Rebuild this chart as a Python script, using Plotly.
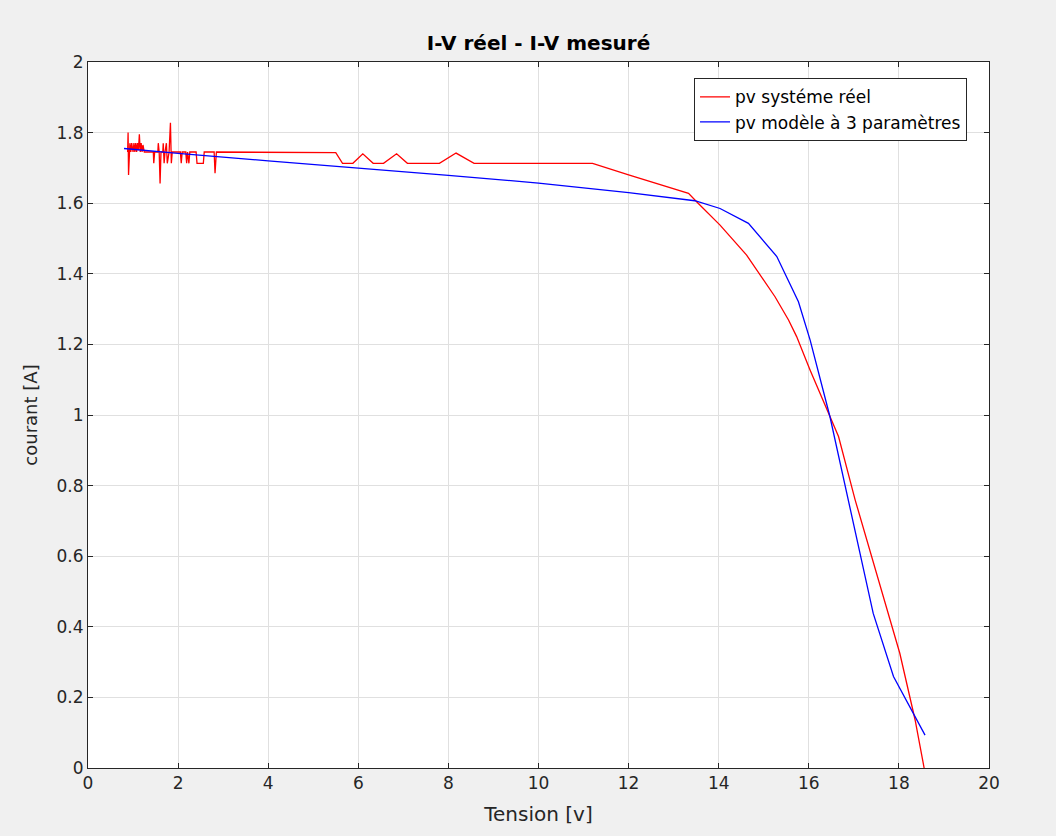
import plotly.graph_objects as go

# Red series: "pv systéme réel" (measured)
red_v = [0.88, 0.89, 0.90, 0.91, 0.93, 0.95, 0.97, 1.00, 1.02, 1.04, 1.06, 1.08, 1.10, 1.12, 1.14,
         1.16, 1.18, 1.20, 1.22, 1.25, 1.45, 1.46, 1.48, 1.55, 1.56, 1.58, 1.60, 1.62, 1.66, 1.67,
         1.69, 1.71, 1.74, 1.76, 1.80, 1.83, 1.85, 1.87, 2.05, 2.07, 2.09, 2.17, 2.19, 2.21, 2.24,
         2.26, 2.40, 2.42, 2.56, 2.58, 2.80, 2.82, 2.85, 5.50, 5.65, 5.88, 6.10, 6.33, 6.56, 6.85,
         7.09, 7.80, 8.17, 8.57, 11.20, 12.00, 13.33, 13.51, 14.03, 14.62, 15.25, 15.55, 15.73,
         16.03, 16.47, 16.66, 17.03, 18.02, 18.36, 18.56]
red_i = [1.745, 1.80, 1.68, 1.745, 1.77, 1.745, 1.77, 1.745, 1.77, 1.745, 1.77, 1.745, 1.77, 1.75, 1.795,
         1.745, 1.77, 1.745, 1.765, 1.745, 1.745, 1.713, 1.745, 1.745, 1.77, 1.745, 1.656, 1.745, 1.745, 1.77,
         1.713, 1.745, 1.77, 1.713, 1.745, 1.828, 1.713, 1.745, 1.745, 1.713, 1.745, 1.745, 1.713, 1.745, 1.713,
         1.745, 1.745, 1.713, 1.713, 1.745, 1.745, 1.685, 1.745, 1.743, 1.713, 1.713, 1.74, 1.713, 1.713, 1.74,
         1.713, 1.713, 1.742, 1.713, 1.713, 1.68, 1.628, 1.604, 1.538, 1.453, 1.335, 1.269, 1.222,
         1.127, 0.995, 0.939, 0.759, 0.325, 0.136, 0.0]

# Blue series: "pv modèle à 3 paramètres"
blue_v = [0.80, 2.0, 4.0, 6.0, 8.0, 10.0, 12.0, 13.47, 14.03, 14.66, 15.29, 15.77, 16.03, 16.47,
          16.88, 17.06, 17.43, 17.88, 18.32, 18.58]
blue_i = [1.755, 1.741, 1.72, 1.70, 1.679, 1.657, 1.630, 1.607, 1.585, 1.543, 1.449, 1.321, 1.212, 0.995,
          0.759, 0.646, 0.438, 0.259, 0.155, 0.093]

x_ticks = [0, 2, 4, 6, 8, 10, 12, 14, 16, 18, 20]
y_ticks = [0, 0.2, 0.4, 0.6, 0.8, 1, 1.2, 1.4, 1.6, 1.8, 2]

FONT = "DejaVu Sans, Liberation Sans, Arial, sans-serif"
AX = "#262626"

fig = go.Figure()
fig.add_trace(go.Scatter(x=red_v, y=red_i, mode="lines", name="pv systéme réel",
                         line=dict(color="#ff0000", width=1.3)))
fig.add_trace(go.Scatter(x=blue_v, y=blue_i, mode="lines", name="pv modèle à 3 paramètres",
                         line=dict(color="#0000ff", width=1.3)))

axis_common = dict(showline=True, linecolor=AX, linewidth=1, mirror="ticks", ticks="inside",
                   ticklen=5, tickcolor=AX, showgrid=True, gridcolor="#e0e0e0", gridwidth=1,
                   zeroline=False, tickfont=dict(family=FONT, size=17, color=AX))

fig.update_xaxes(range=[0, 20], tickvals=x_ticks, ticktext=[str(v) for v in x_ticks],
                 title=dict(text="Tension [v]", font=dict(family=FONT, size=20, color=AX), standoff=14),
                 **axis_common)
fig.update_yaxes(range=[0, 2], tickvals=y_ticks, ticktext=[("%g" % v) for v in y_ticks],
                 title=dict(text="courant [A]", font=dict(family=FONT, size=18, color=AX), standoff=14),
                 **axis_common)

fig.update_layout(
    width=1056, height=836,
    margin=dict(l=88, r=67, t=62, b=68),
    paper_bgcolor="#f0f0f0", plot_bgcolor="white",
    title=dict(text="<b>I-V réel - I-V mesuré</b>", x=(88 + 989) / 2 / 1056, xanchor="center",
               y=1 - 43 / 836, yanchor="middle", font=dict(family=FONT, size=20, color="#000000")),
    legend=dict(x=0.9756, xanchor="right", y=0.977, yanchor="top", bgcolor="white",
                bordercolor="#262626", borderwidth=1,
                font=dict(family=FONT, size=17, color="#000000"), tracegroupgap=0),
    showlegend=True,
)

fig.write_html("out.html")
